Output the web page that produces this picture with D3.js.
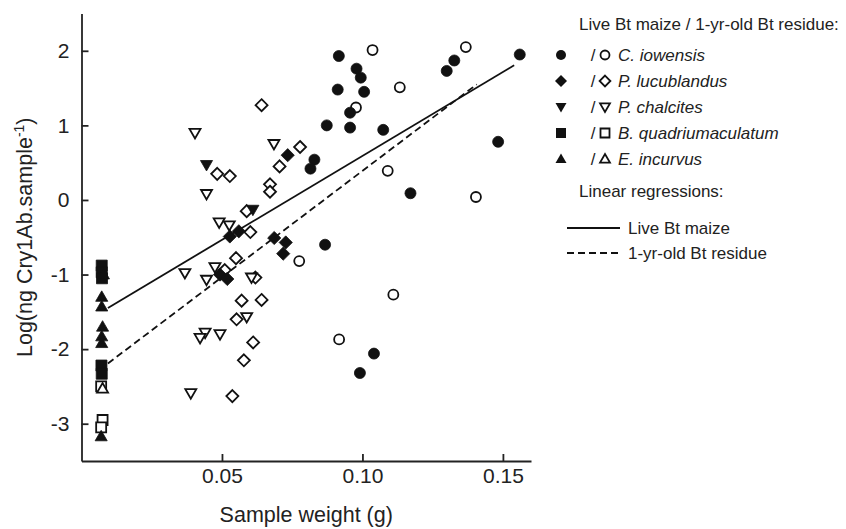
<!DOCTYPE html>
<html>
<head>
<meta charset="utf-8">
<script src="https://cdn.jsdelivr.net/npm/d3@7"></script>
<style>
  body { margin: 0; background: #fff; }
  svg { display: block; }
  text { font-family: "Liberation Sans", Arial, sans-serif; fill: #222; }
</style>
</head>
<body>
<svg id="chart" width="846" height="529"></svg>
<script>
// 读图得到的数据 [样品重量 g, log(ng Cry1Ab/样品)]
const iowensisLive = [
    [0.0916, 1.93], [0.0979, 1.76], [0.0994, 1.64], [0.0912, 1.48], [0.1006, 1.45],
    [0.0956, 1.17], [0.0956, 0.97], [0.0873, 1.00], [0.1074, 0.94], [0.0829, 0.54],
    [0.0815, 0.42], [0.1171, 0.09], [0.1300, 1.73], [0.1327, 1.87], [0.1560, 1.95],
    [0.1483, 0.78], [0.0867, -0.60], [0.1041, -2.06], [0.0991, -2.32]
]
const iowensisResidue = [
    [0.1036, 2.01], [0.1368, 2.05], [0.1133, 1.51], [0.0977, 1.24], [0.1090, 0.39],
    [0.1404, 0.04], [0.1110, -1.27], [0.0917, -1.87], [0.0775, -0.82]
]
const lucublandusLive = [
    [0.0734, 0.60], [0.0528, -0.49], [0.0560, -0.42], [0.0686, -0.51], [0.0727, -0.57],
    [0.0718, -0.72], [0.0493, -1.00], [0.0519, -1.06]
]
const lucublandusResidue = [
    [0.0641, 1.27], [0.0778, 0.71], [0.0705, 0.45], [0.0483, 0.35], [0.0528, 0.32],
    [0.0671, 0.21], [0.0671, 0.11], [0.0588, -0.15], [0.0601, -0.43], [0.0550, -0.78],
    [0.0510, -0.94], [0.0619, -1.04], [0.0570, -1.35], [0.0641, -1.34], [0.0552, -1.60],
    [0.0611, -1.91], [0.0578, -2.15], [0.0537, -2.63]
]
const chalcitesLive = [
    [0.0445, 0.47], [0.0610, -0.13]
]
const chalcitesResidue = [
    [0.0404, 0.90], [0.0685, 0.75], [0.0445, 0.08], [0.0490, -0.30], [0.0526, -0.34],
    [0.0368, -0.98], [0.0475, -0.90], [0.0445, -1.07], [0.0605, -1.04], [0.0588, -1.57],
    [0.0440, -1.78], [0.0422, -1.85], [0.0493, -1.80], [0.0389, -2.59]
]
const quadriumaculatumLive = [
    [0.0072, -0.88], [0.0072, -0.97], [0.0073, -1.05], [0.0071, -2.22], [0.0072, -2.33]
]
const quadriumaculatumResidue = [
    [0.0070, -2.50], [0.0075, -2.95], [0.0070, -3.05]
]
const incurvusLive = [
    [0.0078, -1.00], [0.0072, -1.30], [0.0072, -1.43], [0.0075, -1.70], [0.0072, -1.83],
    [0.0072, -1.92], [0.0070, -3.17]
]
const incurvusResidue = [
    [0.0075, -2.53]
]

// 回归线: [截距, 斜率, 起点 x, 终点 x]
const regressionLive = [-1.66, 22.5, 0.0094, 0.154]
const regressionResidue = [-2.46, 28.5, 0.0094, 0.1407]

const xTicks = [0.05, 0.10, 0.15]
const yTicks = [-3, -2, -1, 0, 1, 2]
const speciesNames = ['C. iowensis', 'P. lucublandus', 'P. chalcites', 'B. quadriumaculatum', 'E. incurvus']
const speciesShapes = ['circle', 'diamond', 'triDown', 'square', 'triUp']
const regressionNames = ['Live Bt maize', '1-yr-old Bt residue']

const species = [
    { live: iowensisLive, residue: iowensisResidue },
    { live: lucublandusLive, residue: lucublandusResidue },
    { live: chalcitesLive, residue: chalcitesResidue },
    { live: quadriumaculatumLive, residue: quadriumaculatumResidue },
    { live: incurvusLive, residue: incurvusResidue },
]

const svg = d3.select('#chart')

const x = d3.scaleLinear().domain([0, 0.16]).range([81.5, 531])
const y = d3.scaleLinear().domain([-3.5, 2.5]).range([461, 13.5])

// 标记形状
const shapePath = (shape, s) => {
    const r = s / 2
    switch (shape) {
        case 'circle':
            return `M${r},0A${r},${r} 0 1,1 ${-r},0A${r},${r} 0 1,1 ${r},0Z`
        case 'diamond': {
            const d = r * 1.2
            return `M0,${-d}L${d},0L0,${d}L${-d},0Z`
        }
        case 'square':
            return `M${-r},${-r}H${r}V${r}H${-r}Z`
        case 'triDown':
            return `M${-r * 1.1},${-r * 0.8}L${r * 1.1},${-r * 0.8}L0,${r * 1.1}Z`
        case 'triUp':
            return `M${-r * 1.1},${r * 0.8}L${r * 1.1},${r * 0.8}L0,${-r * 1.1}Z`
    }
}

const drawMarkers = (g, points, shape, filled, size) => {
    g.selectAll(null).data(points).enter()
        .append('path')
        .attr('transform', d => `translate(${x(d[0])},${y(d[1])})`)
        .attr('d', shapePath(shape, size))
        .attr('fill', filled ? '#111' : '#fff')
        .attr('stroke', '#111')
        .attr('stroke-width', filled ? 0.8 : 1.8)
}

// 坐标轴
const fmtY = d => String(d).replace('\u2212', '-')
const xAxis = d3.axisBottom(x).tickValues(xTicks).tickFormat(d3.format('.2f'))
    .tickSizeInner(-7).tickSizeOuter(0).tickPadding(7)
const yAxis = d3.axisLeft(y).tickValues(yTicks).tickFormat(fmtY)
    .tickSizeInner(-7).tickSizeOuter(0).tickPadding(12)

const gx = svg.append('g').attr('transform', `translate(0,${y.range()[0]})`).call(xAxis)
const gy = svg.append('g').attr('transform', `translate(${x.range()[0]},0)`).call(yAxis)

;[gx, gy].forEach(g => {
    g.select('.domain').attr('stroke', '#222').attr('stroke-width', 1.8)
    g.selectAll('.tick line').attr('stroke', '#222').attr('stroke-width', 1.8)
    g.selectAll('.tick text')
        .attr('font-size', 21)
        .attr('font-family', '"Liberation Sans", Arial, sans-serif')
        .attr('fill', '#222')
})

svg.append('text')
    .attr('x', (x.range()[0] + x.range()[1]) / 2)
    .attr('y', 522)
    .attr('text-anchor', 'middle')
    .attr('font-size', 21.5)
    .text('Sample weight (g)')

const yTitle = svg.append('text')
    .attr('transform', `translate(32,${(y.range()[0] + y.range()[1]) / 2}) rotate(-90)`)
    .attr('text-anchor', 'middle')
    .attr('font-size', 21.5)
yTitle.append('tspan').text('Log(ng Cry1Ab.sample')
yTitle.append('tspan').attr('font-size', 14).attr('dy', -8).text('-1')
yTitle.append('tspan').attr('dy', 8).text(')')

// 回归线
const drawRegression = (reg, dash) => {
    const [a, b, x0, x1] = reg
    svg.append('line')
        .attr('x1', x(x0)).attr('y1', y(a + b * x0))
        .attr('x2', x(x1)).attr('y2', y(a + b * x1))
        .attr('stroke', '#111')
        .attr('stroke-width', 1.8)
        .attr('stroke-dasharray', dash)
}

// 散点
const pointsG = svg.append('g')
species.forEach((sp, i) => {
    drawMarkers(pointsG, sp.residue, speciesShapes[i], false, 10)
})
drawRegression(regressionLive, null)
drawRegression(regressionResidue, '7,4')
species.forEach((sp, i) => {
    drawMarkers(pointsG, sp.live, speciesShapes[i], true, 11)
})

// 图例
const legend = svg.append('g')
legend.append('text')
    .attr('x', 579).attr('y', 30)
    .attr('font-size', 17)
    .text('Live Bt maize / 1-yr-old Bt residue:')

const rowY = i => 55 + i * 26
speciesNames.forEach((name, i) => {
    const cy = rowY(i)
    legend.append('path')
        .attr('transform', `translate(561,${cy})`)
        .attr('d', shapePath(speciesShapes[i], 10))
        .attr('fill', '#111')
    legend.append('text')
        .attr('x', 593).attr('y', cy + 6)
        .attr('text-anchor', 'middle')
        .attr('font-size', 17)
        .text('/')
    legend.append('path')
        .attr('transform', `translate(605,${cy})`)
        .attr('d', shapePath(speciesShapes[i], 9))
        .attr('fill', '#fff')
        .attr('stroke', '#111')
        .attr('stroke-width', 1.8)
    legend.append('text')
        .attr('x', 618).attr('y', cy + 6)
        .attr('font-size', 17)
        .attr('font-style', 'italic')
        .text(name)
})

legend.append('text')
    .attr('x', 579).attr('y', 197)
    .attr('font-size', 17)
    .text('Linear regressions:')

regressionNames.forEach((name, i) => {
    const cy = 228 + i * 25
    legend.append('line')
        .attr('x1', 567).attr('x2', 620)
        .attr('y1', cy).attr('y2', cy)
        .attr('stroke', '#111')
        .attr('stroke-width', 1.8)
        .attr('stroke-dasharray', i === 1 ? '7,4' : null)
    legend.append('text')
        .attr('x', 628).attr('y', cy + 6)
        .attr('font-size', 17)
        .text(name)
})
</script>
</body>
</html>
